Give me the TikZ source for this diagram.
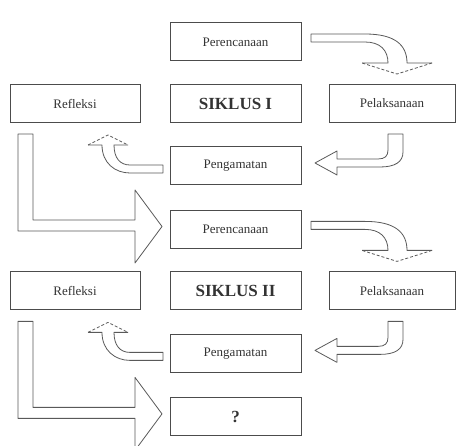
\documentclass[tikz,border=0pt]{standalone}
\usepackage{fontspec}
\setmainfont{Liberation Serif}
\usetikzlibrary{calc}
\tikzset{
    vak/.style={draw=black!70, line width=1pt, minimum width=131pt, minimum height=38pt, inner sep=0pt,
        font=\fontsize{13}{15}\selectfont, text=black!80},
    titel/.style={font=\fontsize{17}{19}\selectfont\bfseries},
    pijl/.style={draw=black!65, line width=0.8pt, line join=round},
    streep/.style={pijl, dash pattern=on 3pt off 2pt},
}
\NewDocumentCommand{\siklus}{m m m}{ % nummer, verschuiving, titel
    \begin{scope}[shift={(0,#2)}]
    \node[vak] (plan#1) at (235.5,42) {Perencanaan};
    \node[vak, titel] (sik#1) at (235.5,103.5) {#3};
    \node[vak, minimum width=130pt] (refl#1) at (75,103.5) {Refleksi};
    \node[vak, minimum width=126pt] (pel#1) at (392,103.5) {Pelaksanaan};
    \node[vak] (obs#1) at (235.5,166) {Pengamatan};
    % perencanaan -> pelaksanaan
    \draw[pijl] (362,63) -- (388,63) .. controls (388,50) and (380,42) .. (365,42) -- (311,42)
        -- (311,34) -- (365,34) .. controls (395,34) and (407,45) .. (407,63) -- (432,63);
    \draw[streep] (432,63) -- (397,74) -- (362,63);
    % pelaksanaan -> pengamatan
    \draw[pijl] (388,134) -- (403,134) -- (403,152) .. controls (403,162) and (395,167) .. (380,167)
        -- (337,167) -- (337,175) -- (315,163) -- (337,151) -- (337,159) -- (378,159)
        .. controls (385,159) and (388,156) .. (388,150) -- cycle;
    % pengamatan -> refleksi
    \draw[pijl] (128,145) -- (114,145) .. controls (114,158) and (120,165) .. (130,165) -- (163,165)
        -- (163,173) -- (130,173) .. controls (115,173) and (102,163) .. (102,145) -- (88,145);
    \draw[streep] (88,145) -- (108,135) -- (128,145);
    % refleksi -> volgende
    \draw[pijl] (18,134) -- (33,134) -- (33,220) -- (135,220) -- (135,190) -- (162,226.5)
        -- (135,263) -- (135,231) -- (18,231) -- cycle;
    \end{scope}
}

\begin{document}
\begin{tikzpicture}[x=1pt, y=-1pt]
    \useasboundingbox (0,0) rectangle (456,446);
    \siklus{1}{0}{SIKLUS I}
    \siklus{2}{187.4}{SIKLUS II}
    \node[vak, titel] (vraag) at (235.5,416.5) {?};
\end{tikzpicture}
\end{document}
